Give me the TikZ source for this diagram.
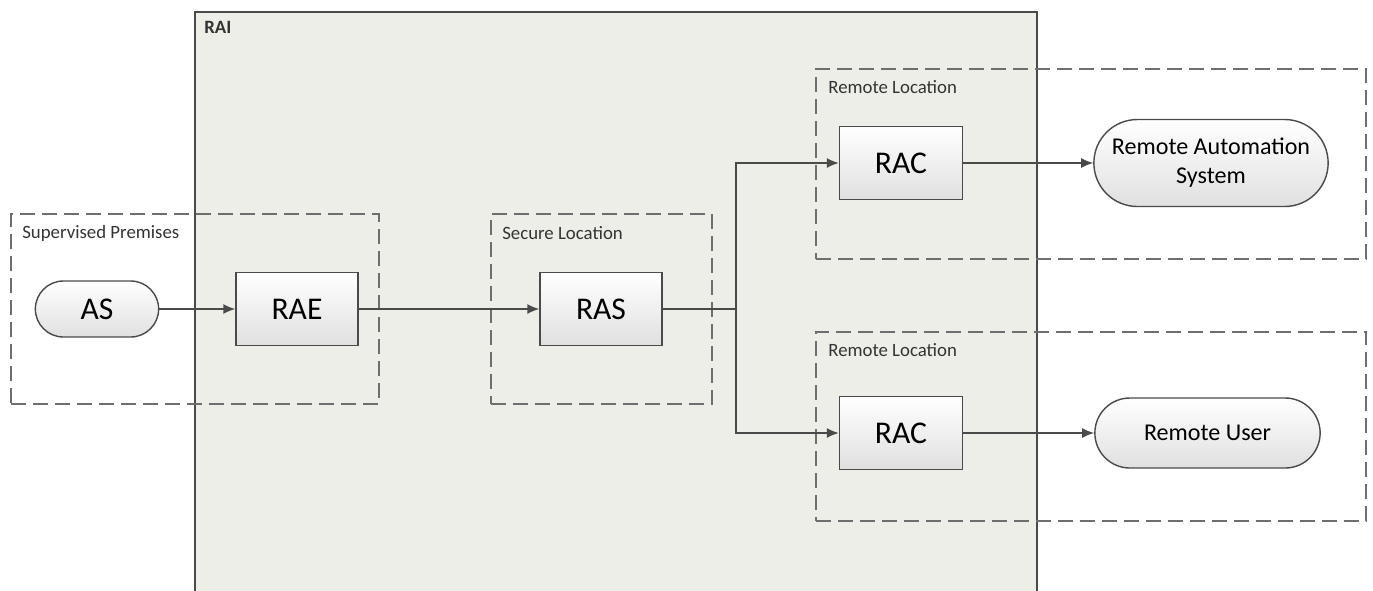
\documentclass[tikz,border=0pt]{standalone}
\usepackage{fontspec}
\setmainfont{Carlito}
\providecommand{\raiColorArea}{raiArea}
\providecommand{\raiStroke}{raiLine}
\providecommand{\raiDash}{raiDashLine}
\definecolor{raiArea}{HTML}{EEEEE8}
\definecolor{raiLine}{HTML}{4A4A4A}
\definecolor{raiDashLine}{HTML}{6E6E6E}
\definecolor{raiShade}{HTML}{E0E0E0}
\usetikzlibrary{arrows.meta,positioning,shapes.misc}
\tikzset{
  >={Latex[length=2.4mm,width=2mm]},
  area/.style 2 args={draw=\raiStroke,line width=1.2pt,fill=\raiColorArea,minimum width=#1,minimum height=#2,inner sep=0pt},
  blk/.style 2 args={draw=\raiStroke,thick,top color=white,bottom color=raiShade,minimum width=#1,minimum height=#2,align=center,font=\fontsize{18}{21}\selectfont},
  % pill nodes: end points (AS, remote systems)
  pill/.style 2 args={draw=\raiStroke,thick,rounded rectangle,top color=white,bottom color=raiShade,minimum width=#1,minimum height=#2,align=center,font=\fontsize{13.7}{16.5}\selectfont},
  zone/.style 2 args={draw=\raiDash,line width=1.3pt,dash pattern=on 3mm off 1.4mm,minimum width=#1,minimum height=#2,inner sep=0pt},
  tag/.style={anchor=west,inner sep=0pt,font=\fontsize{10.7}{12}\selectfont,text=black!80},
  conn/.style={->,draw=\raiStroke,thick},
}

\begin{document}
\begin{tikzpicture}
\useasboundingbox[fill=white] (0,0) rectangle (27.46cm,-11.80cm);
% --- Areas (background) ----------------------------------------------------

  \node[area={16.84cm}{11.96cm}] (rai) at (12.32cm,-6.22cm) {};
  \node[tag,font=\fontsize{10.7}{12}\selectfont\bfseries] (raiTag) at (4.08cm,-0.55cm) {RAI};

  \node[zone={7.36cm}{3.80cm}] (supZone) at (3.90cm,-6.18cm) {};
  \node[tag] (supTag) at (0.44cm,-4.66cm) {Supervised Premises};

  \node[zone={4.42cm}{3.80cm}] (secZone) at (12.03cm,-6.18cm) {};
  \node[tag] (secTag) at (10.04cm,-4.66cm) {Secure Location};

  \node[zone={11.00cm}{3.80cm}] (remZone1) at (21.82cm,-3.28cm) {};
  \node[tag] (remTag1) at (16.56cm,-1.74cm) {Remote Location};

  \node[zone={11.00cm}{3.78cm}] (remZone2) at (21.82cm,-8.53cm) {};
  \node[tag] (remTag2) at (16.56cm,-7.00cm) {Remote Location};

% --- Primitive nodes -------------------------------------------------------

  \node[pill={2.70cm}{1.12cm},font=\fontsize{18}{21}\selectfont] (as) at (1.94cm,-6.18cm) {AS};

  \node[blk={2.44cm}{1.46cm}] (rae) at (5.94cm,-6.18cm) {RAE};

  \node[blk={2.44cm}{1.46cm}] (ras) at (12.02cm,-6.18cm) {RAS};

  \coordinate (split) at (14.72cm,-6.18cm);

  \node[blk={2.46cm}{1.46cm}] (rac1) at (18.02cm,-3.26cm) {RAC};

  \node[pill={4.92cm}{1.74cm}] (ras1) at (24.22cm,-3.26cm) {Remote Automation\\System};

  \node[blk={2.46cm}{1.46cm}] (rac2) at (18.02cm,-8.66cm) {RAC};

  \node[pill={4.74cm}{1.40cm}] (user) at (24.15cm,-8.66cm) {Remote User};

% --- Edges -----------------------------------------------------------------

  \path[conn] (as.east) -- (rae.west);

  \path[conn] (rae.east) -- (ras.west);

  \path[draw=\raiStroke,thick] (ras.east) -- (split);

  \path[conn] (split) |- (rac1.west);

  \path[conn] (split) |- (rac2.west);

  \path[conn] (rac1.east) -- (ras1.west);

  \path[conn] (rac2.east) -- (user.west);

\end{tikzpicture}
\end{document}
